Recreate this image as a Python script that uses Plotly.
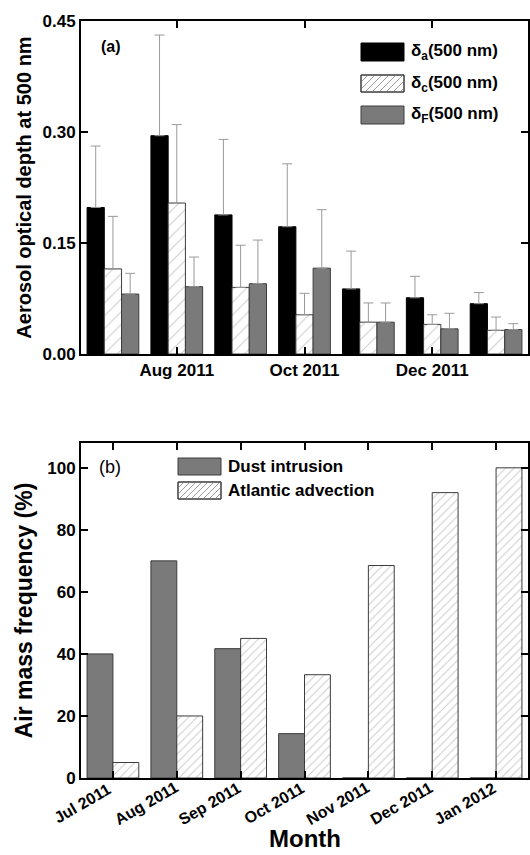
import plotly.graph_objects as go

# ---- data -------------------------------------------------------------
months = ["Jul 2011", "Aug 2011", "Sep 2011", "Oct 2011",
          "Nov 2011", "Dec 2011", "Jan 2012"]

# panel (a): aerosol optical depth at 500 nm (total, coarse, fine) + upper std
aod_total = [0.198, 0.295, 0.188, 0.172, 0.088, 0.076, 0.068]
aod_total_err = [0.083, 0.136, 0.102, 0.085, 0.051, 0.029, 0.015]
aod_coarse = [0.115, 0.204, 0.090, 0.053, 0.043, 0.040, 0.032]
aod_coarse_err = [0.071, 0.106, 0.057, 0.029, 0.026, 0.013, 0.018]
aod_fine = [0.081, 0.091, 0.095, 0.116, 0.043, 0.034, 0.033]
aod_fine_err = [0.028, 0.040, 0.059, 0.079, 0.026, 0.021, 0.008]

# panel (b): air mass frequency (%)
dust_intrusion = [40, 70, 41.7, 14.3, 0, 0, 0]
atlantic_advection = [5, 20, 45, 33.3, 68.5, 92, 100]

top_ticks = ["Aug 2011", "Oct 2011", "Dec 2011"]
aod_ticks = [0.0, 0.15, 0.30, 0.45]
aod_ticktext = ["0.00", "0.15", "0.30", "0.45"]
freq_ticks = [0, 20, 40, 60, 80, 100]

# ---- styling ----------------------------------------------------------
W, H = 530, 855
ML, MR, MT, MB = 81, 2, 21, 77
FONT = "Liberation Sans, Arial, sans-serif"
GRAY = "#7a7a7a"
EDGE = "#3c3c3c"
HATCH = "#9c9c9c"
ERR = "#9a9a9a"

plot_w = W - ML - MR
plot_h = H - MT - MB


def px(x):
    return (x - ML) / plot_w


def py(y):
    return (H - MB - y) / plot_h


def err(arr):
    return dict(type="data", array=arr, arrayminus=[0] * len(arr),
                symmetric=False, color=ERR, thickness=1, width=5)


fig = go.Figure()

fig.add_trace(go.Bar(x=months, y=aod_total, error_y=err(aod_total_err),
                     marker=dict(color="black", line=dict(color="black", width=1)),
                     xaxis="x", yaxis="y", showlegend=False))
fig.add_trace(go.Bar(x=months, y=aod_coarse, error_y=err(aod_coarse_err),
                     marker=dict(color="white", line=dict(color=EDGE, width=1),
                                 pattern=dict(shape="/", fgcolor=HATCH, bgcolor="white",
                                              size=9, solidity=0.12)),
                     xaxis="x", yaxis="y", showlegend=False))
fig.add_trace(go.Bar(x=months, y=aod_fine, error_y=err(aod_fine_err),
                     marker=dict(color=GRAY, line=dict(color=EDGE, width=1)),
                     xaxis="x", yaxis="y", showlegend=False))

fig.add_trace(go.Bar(x=months, y=dust_intrusion,
                     marker=dict(color=GRAY, line=dict(color=EDGE, width=1)),
                     xaxis="x2", yaxis="y2", showlegend=False))
fig.add_trace(go.Bar(x=months, y=atlantic_advection,
                     marker=dict(color="white", line=dict(color=EDGE, width=1),
                                 pattern=dict(shape="/", fgcolor=HATCH, bgcolor="white",
                                              size=6, solidity=0.18)),
                     xaxis="x2", yaxis="y2", showlegend=False))

axis_common = dict(showline=True, linecolor="black", linewidth=2, mirror="ticks",
                   ticks="inside", ticklen=7, tickwidth=2, tickcolor="black",
                   showgrid=False, zeroline=False, layer="above traces",
                   automargin=False,
                   tickfont=dict(family=FONT, size=17, color="black", weight="bold"))

top_dom = [py(354), 1.0]
bot_dom = [0.0, py(443)]

fig.update_layout(
    width=W, height=H,
    margin=dict(l=ML, r=MR, t=MT, b=MB, autoexpand=False),
    paper_bgcolor="white", plot_bgcolor="white",
    barmode="group", bargap=0.19, bargroupgap=0,
    font=dict(family=FONT, color="black"),
    xaxis=dict(axis_common, domain=[0, 1], anchor="y", range=[-0.5, 6.5],
               categoryorder="array", categoryarray=months,
               tickmode="array", tickvals=top_ticks, ticktext=top_ticks),
    yaxis=dict(axis_common, domain=top_dom, anchor="x", range=[0, 0.45],
               tickmode="array", tickvals=aod_ticks, ticktext=aod_ticktext,
               title=dict(text="Aerosol optical depth at 500 nm", standoff=6,
                          font=dict(family=FONT, size=20, weight="bold"))),
    # month labels of the lower panel are written as slanted annotations below
    xaxis2=dict(axis_common, domain=[0, 1], anchor="y2", range=[-0.5, 6.5],
                categoryorder="array", categoryarray=months,
                tickmode="array", tickvals=months, showticklabels=False),
    yaxis2=dict(axis_common, domain=bot_dom, anchor="x2", range=[0, 108],
                tickmode="array", tickvals=freq_ticks,
                title=dict(text="Air mass frequency (%)", standoff=8,
                           font=dict(family=FONT, size=23, weight="bold"))),
)

# slanted month labels, ending just under each tick
for m in months:
    fig.add_annotation(x=m, xref="x2", y=py(803), yref="paper", text=m,
                       textangle=-30, showarrow=False, xanchor="center",
                       yanchor="middle", xshift=-31,
                       font=dict(family=FONT, size=16, color="black", weight="bold"))

fig.add_annotation(x=0.5, xref="paper", y=py(838), yref="paper", text="Month",
                   showarrow=False, xanchor="center", yanchor="middle",
                   font=dict(family=FONT, size=24, color="black", weight="bold"))


# ---- hand-drawn legends ----------------------------------------------
def swatch(x0, y0, x1, y1, fill, line, hatch_step=None):
    fig.add_shape(type="rect", xref="paper", yref="paper",
                  x0=px(x0), x1=px(x1), y0=py(y1), y1=py(y0),
                  fillcolor=fill, line=dict(color=line, width=1), layer="above")
    if hatch_step:
        segs = []
        w, h = x1 - x0, y1 - y0
        # lines rising to the right, clipped to the swatch box
        c = -h + hatch_step
        while c < w:
            sx, sy = x0 + c, y1
            ex, ey = x0 + c + h, y0
            if sx < x0:
                sy = y1 - (x0 - sx)
                sx = x0
            if ex > x1:
                ey = y0 + (ex - x1)
                ex = x1
            segs.append(f"M{px(sx):.5f},{py(sy):.5f} L{px(ex):.5f},{py(ey):.5f}")
            c += hatch_step
        fig.add_shape(type="path", xref="paper", yref="paper", path=" ".join(segs),
                      line=dict(color=HATCH, width=1), layer="above")
        fig.add_shape(type="rect", xref="paper", yref="paper",
                      x0=px(x0), x1=px(x1), y0=py(y1), y1=py(y0),
                      line=dict(color=line, width=1), layer="above")


def label(x, y, text, size=17, weight="bold"):
    fig.add_annotation(x=px(x), y=py(y), xref="paper", yref="paper", text=text,
                       showarrow=False, xanchor="left", yanchor="middle",
                       font=dict(family=FONT, size=size, color="black", weight=weight))


# panel (a) legend
swatch(361, 43, 404, 61, "black", "black")
label(409, 52, "δ<sub>a</sub>(500 nm)")
swatch(361, 75, 404, 92, "white", EDGE, hatch_step=7)
label(409, 84, "δ<sub>c</sub>(500 nm)")
swatch(361, 106, 404, 124, GRAY, EDGE)
label(409, 115, "δ<sub>F</sub>(500 nm)")

# panel (b) legend
swatch(178, 458, 221, 475, GRAY, EDGE)
label(226, 467, "Dust intrusion")
swatch(178, 482, 221, 499, "white", EDGE, hatch_step=6)
label(226, 491, "Atlantic advection")

# panel tags
label(99, 47, "(a)", size=16)
label(97, 467, "(b)", size=18, weight="normal")

fig.write_html("out.html")
